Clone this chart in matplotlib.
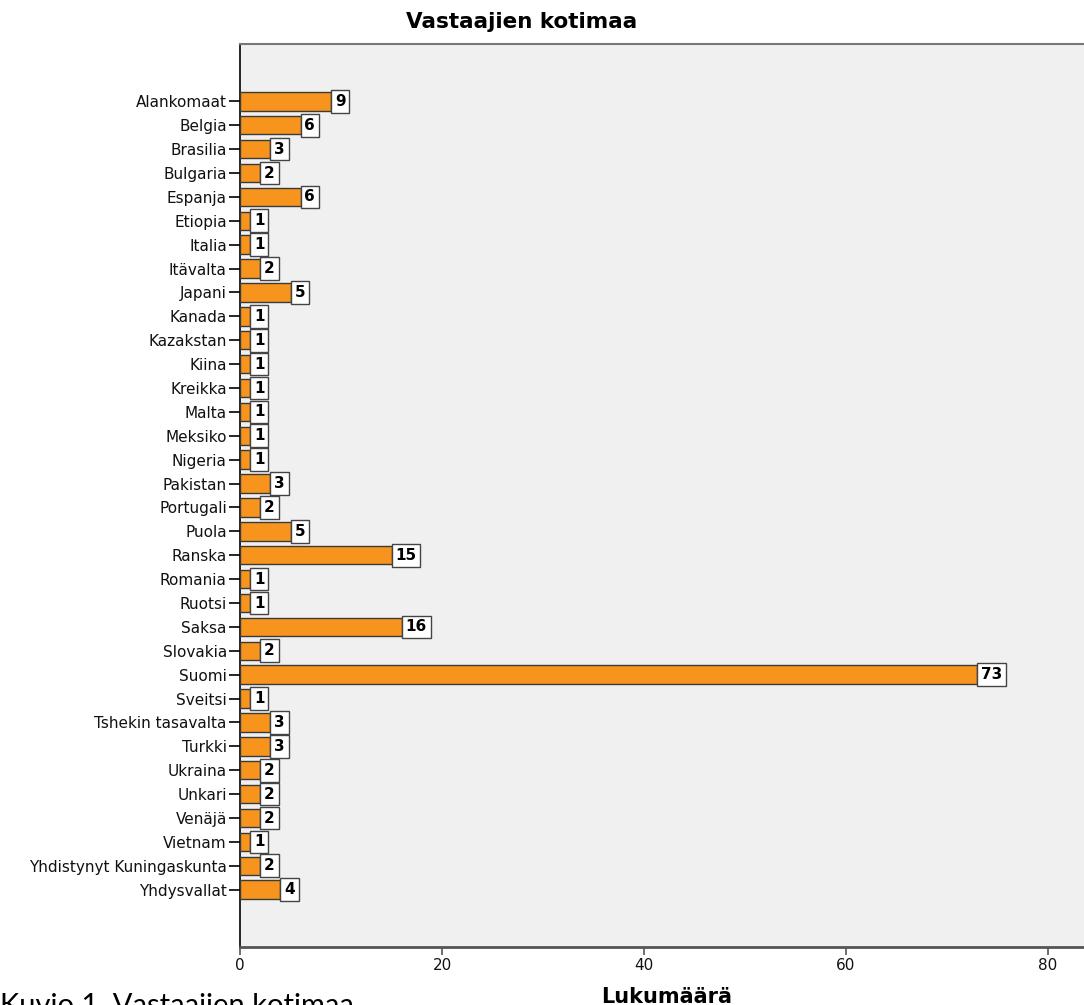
import matplotlib
matplotlib.use('Agg')
import matplotlib.pyplot as plt

countries = ['Alankomaat', 'Belgia', 'Brasilia', 'Bulgaria', 'Espanja', 'Etiopia', 'Italia',
             'Itävalta', 'Japani', 'Kanada', 'Kazakstan', 'Kiina', 'Kreikka', 'Malta', 'Meksiko',
             'Nigeria', 'Pakistan', 'Portugali', 'Puola', 'Ranska', 'Romania', 'Ruotsi', 'Saksa',
             'Slovakia', 'Suomi', 'Sveitsi', 'Tshekin tasavalta', 'Turkki', 'Ukraina', 'Unkari',
             'Venäjä', 'Vietnam', 'Yhdistynyt Kuningaskunta', 'Yhdysvallat']
counts = [9, 6, 3, 2, 6, 1, 1, 2, 5, 1, 1, 1, 1, 1, 1, 1, 3, 2, 5, 15, 1, 1, 16, 2, 73, 1,
          3, 3, 2, 2, 2, 1, 2, 4]
xticks = [0, 20, 40, 60, 80]

# the reference looks like stretched Arial, DejaVu has about the right width
plt.rcParams['font.family'] = ['DejaVu Sans']

W, H = 1084, 1005
fig = plt.figure(figsize=(W / 100, H / 100), dpi=100)
left, right, top, bottom = 240, 1084, 44, 947
ax = fig.add_axes([left / W, (H - bottom) / H, (right - left) / W, (bottom - top) / H])
ax.set_facecolor('#F0F0F0')

pos = list(range(len(countries)))
ax.barh(pos, counts, height=0.77, color='#F7941D', edgecolor='#3a3a3a', linewidth=1, zorder=3)
for i, v in enumerate(counts):
    ax.annotate(str(v), (v, i), xytext=(2.8, 0), textcoords='offset points',
                ha='left', va='center', fontsize=11, fontweight='bold', color='black',
                bbox=dict(boxstyle='square,pad=0.25', fc='white', ec='#444444', lw=1),
                zorder=5)

ax.set_xlim(0, (right - left) / 10.1)
n = len(countries)
ax.set_ylim(n - 1 + 2.4, -2.4)
ax.set_yticks(pos)
ax.set_yticklabels(countries, fontsize=11, color='#111111')
ax.set_xticks(xticks)
ax.set_xticklabels([str(t) for t in xticks], fontsize=11, color='#111111')
ax.tick_params(axis='y', length=8, width=1.2, pad=1.5, color='black')
ax.tick_params(axis='x', length=6, width=1.2, pad=2, color='#555555')

ax.spines['left'].set_color('black')
ax.spines['left'].set_linewidth(1.2)
ax.spines['bottom'].set_color('#555555')
ax.spines['bottom'].set_linewidth(2)
ax.spines['top'].set_color('#777777')
ax.spines['top'].set_linewidth(1.5)
ax.spines['right'].set_visible(False)

fig.text(522 / W, 1 - 28 / H, 'Vastaajien kotimaa', ha='center', va='baseline',
         fontsize=15.5, fontweight='bold')
fig.text(667 / W, 1 - 1003 / H, 'Lukumäärä', ha='center', va='baseline',
         fontsize=15, fontweight='bold')
fig.text(0, 1 - 1014 / H, 'Kuvio 1. Vastaajien kotimaa', ha='left', va='baseline',
         fontsize=21, family=['Lato', 'DejaVu Sans'])

fig.savefig('out.png', dpi=100)
